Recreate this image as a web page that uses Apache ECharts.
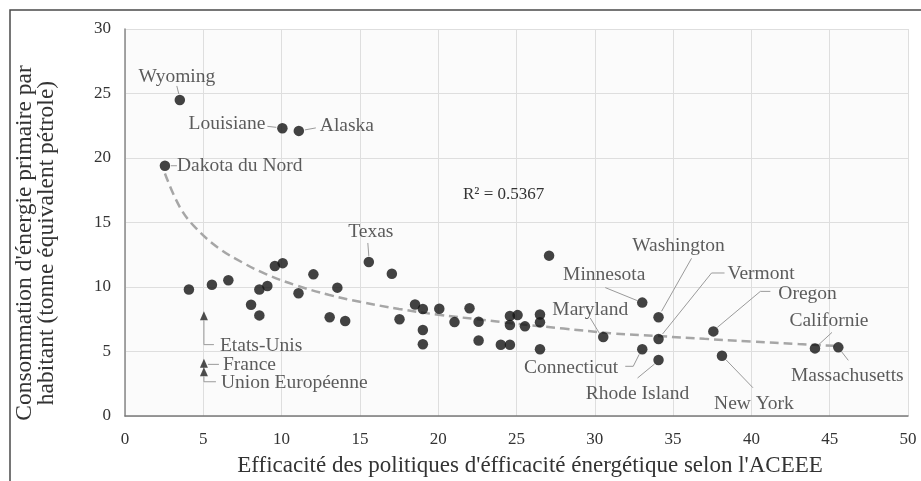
<!DOCTYPE html>
<html><head><meta charset="utf-8">
<script src="https://cdn.jsdelivr.net/npm/echarts@6/dist/echarts.min.js"></script>
<style>html,body{margin:0;padding:0;background:#fff}#c{width:921px;height:481px}</style>
</head><body><div id="c"></div>
<script>
// ---- data ----
const stateNames = ['Wyoming','Louisiane','Alaska','Dakota du Nord','','','','','','','','','','','','','','','Texas','','','','','','','','','','','','','','','','','','','','','','Maryland','Minnesota','Washington','Vermont','Connecticut','Rhode Island','Oregon','New York','Californie','Massachusetts'];
const stateX = [3.5,10.05,11.1,2.55,4.08,5.55,6.6,8.05,8.58,8.58,9.09,9.57,10.07,11.08,12.03,13.07,13.56,14.06,15.57,17.04,17.53,18.52,19.02,19.02,19.02,20.07,21.04,22.0,22.58,22.58,24.0,24.58,24.58,25.07,24.58,25.54,26.5,26.5,26.5,27.08,30.54,33.03,34.07,34.07,33.03,34.07,37.57,38.12,44.06,45.55];
const stateY = [24.5,22.3,22.1,19.4,9.8,10.17,10.52,8.63,9.8,7.8,10.08,11.63,11.85,9.51,10.98,7.65,9.95,7.36,11.94,11.03,7.5,8.65,8.3,6.67,5.56,8.32,7.28,8.35,7.3,5.85,5.53,5.53,7.75,7.82,7.05,6.95,7.87,7.27,5.17,12.43,6.12,8.79,7.65,5.97,5.17,4.34,6.56,4.67,5.24,5.32];
const refNames = ['Etats-Unis','France','Union Européenne'];
const refX = [5.04,5.04,5.04];
const refY = [7.78,4.08,3.43];
const trendX = [2.55,3.5,4.5,6,7.5,9,11,13,15,17.5,20,22.5,25,28,31,34,37,40,43,45.6];
const trendY = [18.8,16.2,14.6,13.0,11.9,11.0,10.1,9.4,8.85,8.3,7.85,7.5,7.15,6.78,6.42,6.2,5.98,5.78,5.58,5.42];
const r2Text = 'R² = 0.5367';
const xTitle = "Efficacité des politiques d'éfficacité énergétique selon l'ACEEE";
const yTitle = "Consommation d'énergie primaire par\nhabitant (tonne équivalent pétrole)";

// ---- label placement and leader lines (pixel offsets from the point: style only) ----
const labelPos = {
 'Wyoming':[-3,-23,'center'], 'Louisiane':[-17,-4,'right'], 'Alaska':[21,-5,'left'],
 'Dakota du Nord':[12,0,'left'], 'Texas':[2,-30,'center'], 'Washington':[20,-71,'center'],
 'Minnesota':[-38,-28,'center'], 'Vermont':[69,-65,'left'], 'Oregon':[65,-38,'left'],
 'Maryland':[-13,-27,'center'], 'Californie':[14,-28,'center'], 'Massachusetts':[9,29,'center'],
 'New York':[32,48,'center'], 'Rhode Island':[-21,34,'center'], 'Connecticut':[-24,19,'right'],
 'Etats-Unis':[16,30,'left'], 'France':[19,2,'left'], 'Union Européenne':[17,11,'left']
};
const leaderOff = {
 'Wyoming':[[-1,-6],[-3,-14]], 'Louisiane':[[-6,-1],[-15,-2]], 'Alaska':[[6,-1],[17,-3]],
 'Dakota du Nord':[[6,0],[12,0]], 'Texas':[[0,-6],[-1,-19]], 'Washington':[[3,-6],[33,-59]],
 'Minnesota':[[-5,-2],[-37,-15]], 'Vermont':[[4,-5],[53,-66],[66,-66]], 'Oregon':[[4,-4],[47,-40],[57,-40]],
 'Maryland':[[-4,-4],[-13,-19]], 'Californie':[[4,-4],[17,-16]], 'Massachusetts':[[3,4],[10,13]],
 'New York':[[4,4],[31,32]], 'Rhode Island':[[-4,4],[-21,18]], 'Connecticut':[[-3,5],[-9,17],[-17,17]],
 'Etats-Unis':[[0,5],[0,29],[10,29]], 'France':[[4,1],[15,1]], 'Union Européenne':[[0,5],[0,10],[12,10]]
};

const FONT = '"Liberation Serif", "DejaVu Serif", serif';
const TXT = '#333333';

function build(names, xs, ys){
  return xs.map((x,i)=>{
    const it = {name: names[i], value:[x, ys[i]]};
    if(!names[i]) it.label = {show:false};
    return it;
  });
}
function layoutFor(names){
  return function(p){
    const o = labelPos[names[p.dataIndex]];
    if(!o) return {};
    return {x: p.rect.x + p.rect.width/2 + o[0], y: p.rect.y + p.rect.height/2 + o[1], align:o[2], verticalAlign:'middle'};
  };
}
const allNames = stateNames.concat(refNames);
const allX = stateX.concat(refX), allY = stateY.concat(refY);
const leaderData = [];
allNames.forEach((n,i)=>{ if(leaderOff[n]) leaderData.push({name:n, value:[allX[i], allY[i]]}); });

const labelStyle = {show:true, formatter:'{b}', color:TXT, fontFamily:FONT, fontSize:19.5};

const chart = echarts.init(document.getElementById('c'), null, {renderer:'canvas'});
chart.setOption({
  animation:false,
  backgroundColor:'#ffffff',
  grid:{left:125, right:13, top:29, bottom:65, show:true, backgroundColor:'#fbfbfb', borderWidth:0},
  xAxis:{type:'value', min:0, max:50, interval:5,
    axisLine:{show:true, lineStyle:{color:'#7a7a7a', width:1.5}},
    axisTick:{show:false},
    axisLabel:{color:TXT, fontFamily:FONT, fontSize:17, margin:15},
    splitLine:{show:true, lineStyle:{color:'#dedede', width:1}}},
  yAxis:{type:'value', min:0, max:30, interval:5,
    axisLine:{show:true, lineStyle:{color:'#888888', width:1.5}},
    axisTick:{show:false},
    axisLabel:{color:TXT, fontFamily:FONT, fontSize:17, margin:14},
    splitLine:{show:true, lineStyle:{color:'#dedede', width:1}}},
  series:[
    {type:'line', data:trendX.map((x,i)=>[x,trendY[i]]), smooth:0.4, showSymbol:false, symbol:'none',
     lineStyle:{color:'#a6a6a6', width:2.5, type:[9,5]}, z:2, silent:true},
    {type:'custom', data:leaderData, silent:true, z:2,
     renderItem:function(params, api){
       const p = api.coord([api.value(0), api.value(1)]);
       const offs = leaderOff[leaderData[params.dataIndex].name];
       return {type:'polyline', shape:{points:offs.map(o=>[p[0]+o[0], p[1]+o[1]])},
               style:{stroke:'#9a9a9a', lineWidth:1, fill:null}};
     }},
    {type:'scatter', data:build(stateNames,stateX,stateY), symbol:'circle', symbolSize:10.5,
     itemStyle:{color:'#141414'}, label:labelStyle,
     labelLayout:layoutFor(stateNames), z:3},
    {type:'scatter', data:build(refNames,refX,refY), symbol:'triangle', symbolSize:[8,9],
     itemStyle:{color:'#222222'}, label:labelStyle,
     labelLayout:layoutFor(refNames), z:3}
  ],
  graphic:[
    {type:'rect', shape:{x:10, y:10, width:940, height:500}, style:{fill:null, stroke:'#4a4a4a', lineWidth:1.5}, z:0, silent:true},
    {type:'text', x:463, y:195, style:{text:r2Text, fontFamily:FONT, fontSize:17, fill:TXT, textVerticalAlign:'middle'}, z:10},
    {type:'text', x:530, y:466, style:{text:xTitle, fontFamily:FONT, fontSize:23, fill:TXT, textAlign:'center', textVerticalAlign:'middle'}, z:10},
    {type:'text', x:36, y:243, rotation:Math.PI/2, style:{text:yTitle, fontFamily:FONT, fontSize:23.5, lineHeight:22, fill:TXT, textAlign:'center', textVerticalAlign:'middle'}, z:10}
  ]
});
</script></body></html>
